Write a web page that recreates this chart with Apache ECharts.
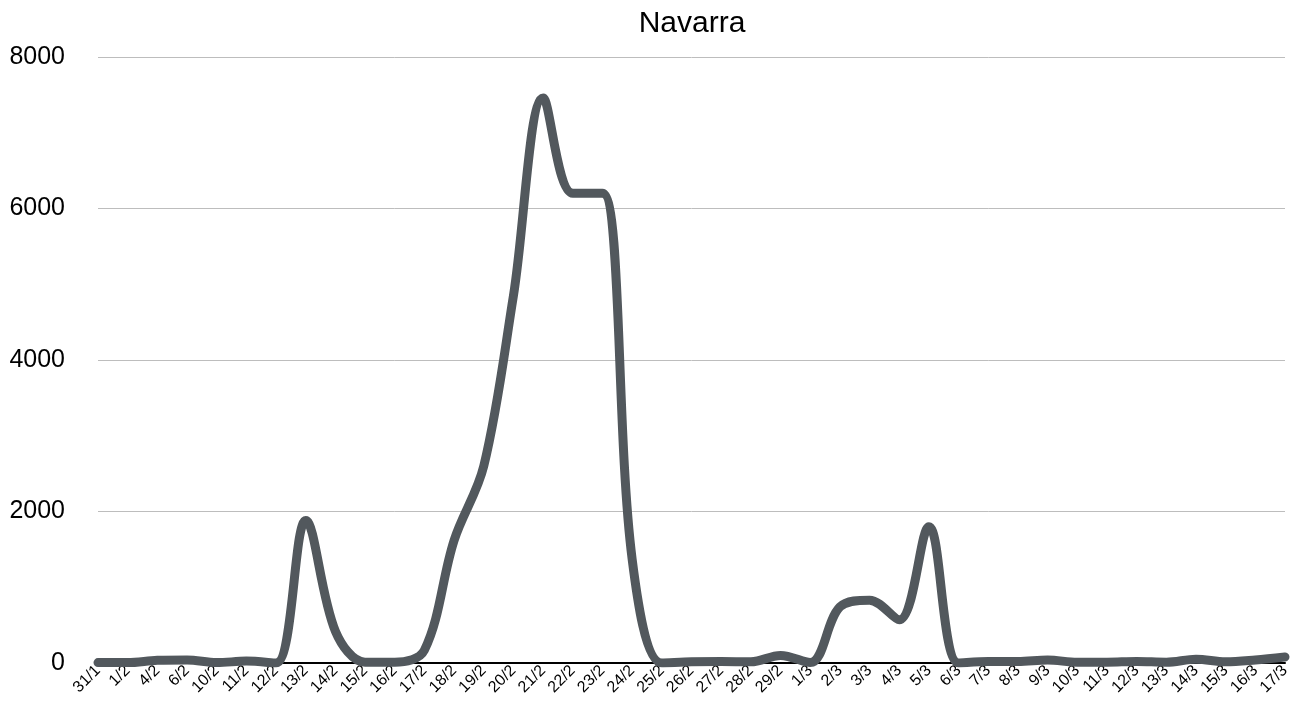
<!DOCTYPE html>
<html>
<head>
<meta charset="utf-8">
<script src="https://cdn.jsdelivr.net/npm/echarts@6/dist/echarts.min.js"></script>
<style>html,body{margin:0;padding:0;background:#fff}#c{width:1296px;height:711px}</style>
</head>
<body>
<div id="c"></div>
<script>
const categories = ['31/1','1/2','4/2','6/2','10/2','11/2','12/2','13/2','14/2','15/2','16/2','17/2','18/2','19/2','20/2','21/2','22/2','23/2','24/2','25/2','26/2','27/2','28/2','29/2','1/3','2/3','3/3','4/3','5/3','6/3','7/3','8/3','9/3','10/3','11/3','12/3','13/3','14/3','15/3','16/3','17/3'];
const values = [5,5,35,40,5,25,0,1880,420,10,10,170,1620,2600,4850,7460,6200,6200,1370,0,15,20,15,100,5,740,830,570,1800,0,20,20,40,10,10,20,10,50,15,40,80];
const yTicks = [0,2000,4000,6000,8000];

const font = 'Liberation Sans, Arial, Helvetica, sans-serif';
const chart = echarts.init(document.getElementById('c'));
chart.setOption({
  animation:false,
  title:{text:'Navarra',left:692,top:9,padding:0,textAlign:'center',textStyle:{fontFamily:font,fontSize:30,fontWeight:'normal',color:'#000'}},
  grid:{left:98,right:11,top:57,bottom:48},
  xAxis:{type:'category',data:categories,boundaryGap:false,
    axisLine:{lineStyle:{color:'#000',width:2}},axisTick:{show:false},
    axisLabel:{rotate:45,interval:0,fontSize:16,color:'#000',fontFamily:font,margin:5}},
  yAxis:{type:'value',min:yTicks[0],max:yTicks[yTicks.length-1],interval:2000,
    axisLine:{show:false},axisTick:{show:false},
    axisLabel:{fontSize:25,color:'#000',fontFamily:font,margin:33,formatter:function(v){return String(v);}},
    splitLine:{lineStyle:{color:'#bdbdbd',width:1}}},
  series:[{type:'line',data:values,smooth:0.35,symbol:'none',
    lineStyle:{color:'#52585d',width:9,cap:'round',join:'round'}}]
});
</script>
</body>
</html>
